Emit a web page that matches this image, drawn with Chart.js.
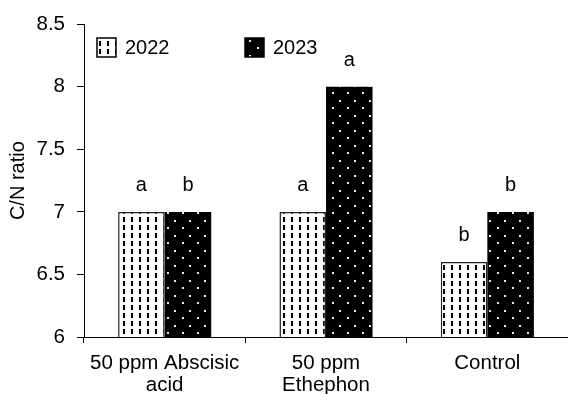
<!DOCTYPE html>
<html>
<head>
<meta charset="utf-8">
<script src="https://cdn.jsdelivr.net/npm/chart.js@4"></script>
<style>
  html, body { margin: 0; padding: 0; background: #fff; }
  #wrap { width: 568px; height: 394px; }
</style>
</head>
<body>
<div id="wrap"><canvas id="chart" width="568" height="394"></canvas></div>
<script>
// Data
const categories = [['50 ppm Abscisic', 'acid'], ['50 ppm', 'Ethephon'], 'Control'];
const seriesNames = ['2022', '2023'];
const values2022 = [7, 7, 6.6];
const values2023 = [7, 8, 7];
const letters2022 = ['a', 'a', 'b'];
const letters2023 = ['b', 'a', 'b'];
const yTicks = [6, 6.5, 7, 7.5, 8, 8.5];

const FONT = '"Liberation Sans", Arial, sans-serif';

// Patterns
function dashPattern() {
    const c = document.createElement('canvas');
    c.width = 8; c.height = 8;
    const g = c.getContext('2d');
    g.fillStyle = '#fff';
    g.fillRect(0, 0, 8, 8);
    g.fillStyle = '#ddd';
    g.fillRect(6, 3, 1, 1);
    g.fillStyle = '#000';
    g.fillRect(3, 1, 2, 5);
    return g.createPattern(c, 'repeat');
}

function dotPattern() {
    const c = document.createElement('canvas');
    c.width = 15; c.height = 15;
    const g = c.getContext('2d');
    g.fillStyle = '#000';
    g.fillRect(0, 0, 15, 15);
    g.fillStyle = '#e8e8e8';
    g.fillRect(2, 2, 2, 2);
    g.fillRect(9, 10, 2, 2);
    return g.createPattern(c, 'repeat');
}

const ctx = document.getElementById('chart').getContext('2d');
const pat2022 = dashPattern();
const pat2023 = dotPattern();

// letters above bars + legend
const annotPlugin = {
    id: 'annot',
    afterDatasetsDraw(chart) {
        const c = chart.ctx;
        c.save();
        c.fillStyle = '#000';
        c.font = '20px ' + FONT;
        c.textAlign = 'center';
        c.textBaseline = 'middle';
        [letters2022, letters2023].forEach((letters, di) => {
            chart.getDatasetMeta(di).data.forEach((bar, i) => {
                c.fillText(letters[i], bar.x, bar.y - 26);
            });
        });

        // legend
        const items = [
            { x: 97, fill: pat2022, text: seriesNames[0] },
            { x: 245, fill: pat2023, text: seriesNames[1] }
        ];
        items.forEach(it => {
            c.fillStyle = it.fill;
            c.fillRect(it.x, 38, 19, 19);
            c.strokeStyle = '#000';
            c.lineWidth = 1.5;
            c.strokeRect(it.x, 38, 19, 19);
            c.fillStyle = '#000';
            c.textAlign = 'left';
            c.fillText(it.text, it.x + 28, 48);
        });
        c.restore();
    }
};

new Chart(ctx, {
    type: 'bar',
    data: {
        labels: categories,
        datasets: [
            {
                label: seriesNames[0],
                data: values2022,
                backgroundColor: pat2022,
                borderColor: '#222',
                borderWidth: 1.5,
                categoryPercentage: 0.577,
                barPercentage: 1
            },
            {
                label: seriesNames[1],
                data: values2023,
                backgroundColor: pat2023,
                borderWidth: 0,
                categoryPercentage: 0.577,
                barPercentage: 1
            }
        ]
    },
    options: {
        responsive: false,
        animation: false,
        layout: { padding: { top: 17, right: 0, bottom: 0, left: 0 } },
        plugins: {
            legend: { display: false },
            tooltip: { enabled: false }
        },
        scales: {
            x: {
                grid: { drawOnChartArea: false, offset: true, tickLength: 6, color: '#000' },
                border: { color: '#000', width: 1 },
                ticks: {
                    color: '#000',
                    font: { family: FONT, size: 20.5, lineHeight: 1.05 },
                    padding: 10,
                    maxRotation: 0,
                    autoSkip: false
                },
                afterFit(scale) { scale.height = 57; }
            },
            y: {
                min: yTicks[0],
                max: yTicks[yTicks.length - 1],
                afterBuildTicks(scale) { scale.ticks = yTicks.map(v => ({ value: v })); },
                grid: { drawOnChartArea: false, tickLength: 7, color: '#000' },
                border: { color: '#000', width: 1 },
                ticks: {
                    color: '#000',
                    font: { family: FONT, size: 20.5 },
                    padding: 12,
                    callback: v => String(v)
                },
                title: {
                    display: true,
                    text: 'C/N ratio',
                    color: '#000',
                    font: { family: FONT, size: 20 },
                    padding: { top: 6, bottom: 0 }
                },
                afterFit(scale) { scale.width = 84; }
            }
        }
    },
    plugins: [annotPlugin]
});
</script>
</body>
</html>
